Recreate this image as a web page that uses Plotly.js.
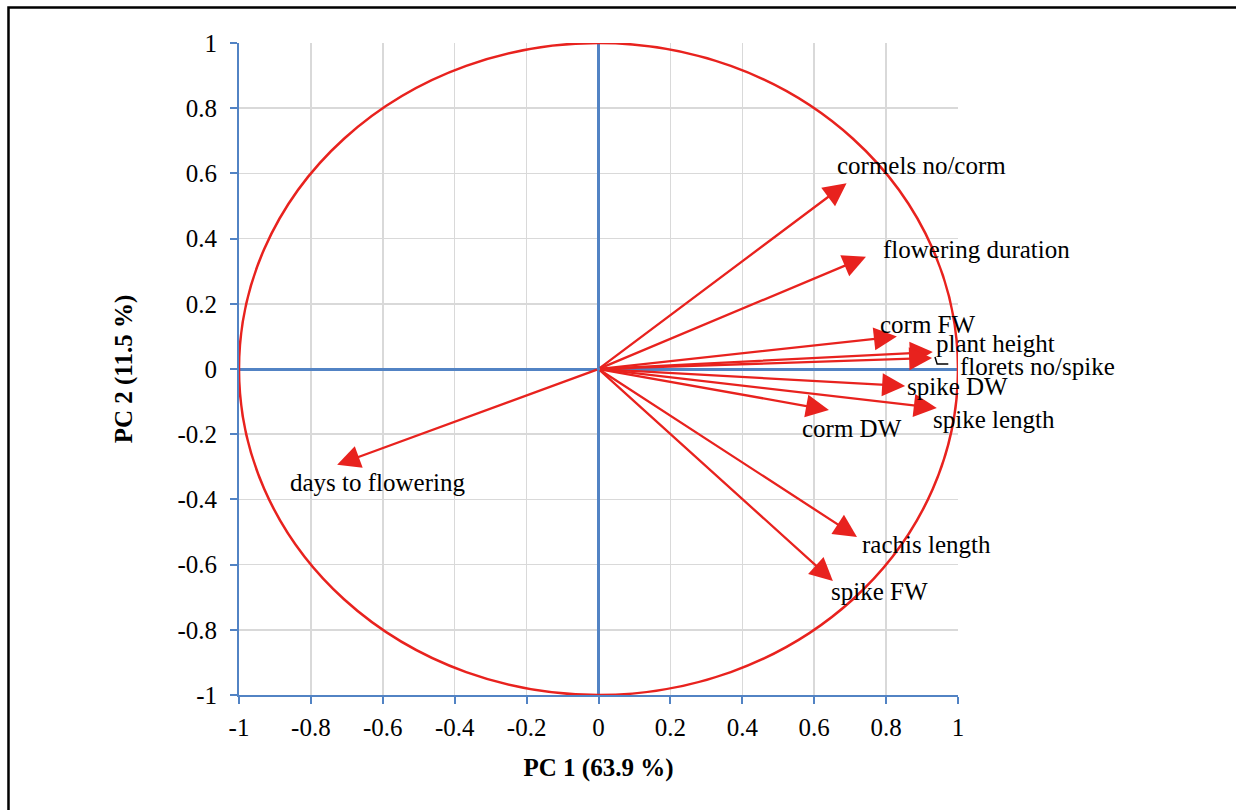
<!DOCTYPE html>
<html>
<head>
<meta charset="utf-8">
<script src="https://cdn.plot.ly/plotly-3.0.1.min.js"></script>
<style>
  html, body { margin: 0; padding: 0; background: #ffffff; }
  #chart { width: 1236px; height: 810px; }
</style>
</head>
<body>
<div id="chart"></div>
<script>
// Variable loadings (arrow tips) on PC1 / PC2
const variables = ["cormels no/corm", "flowering duration", "corm FW", "plant height",
  "florets no/spike", "spike DW", "corm DW", "spike length", "rachis length",
  "spike FW", "days to flowering"];
const pc1 = [0.69, 0.744, 0.83, 0.93, 0.928, 0.853, 0.641, 0.941, 0.719, 0.652, -0.727];
const pc2 = [0.57, 0.344, 0.10, 0.052, 0.034, -0.052, -0.126, -0.12, -0.515, -0.65, -0.294];

// Label anchor points (left edge, vertical middle)
const labelX = [0.658, 0.786, 0.777, 0.933, 1.0, 0.853, 0.561, 0.925, 0.727, 0.641, -0.864];
const labelY = [0.623, 0.368, 0.138, 0.077, 0.008, -0.055, -0.181, -0.156, -0.537, -0.681, -0.347];

// Axis ticks
const tickVals = [-1, -0.8, -0.6, -0.4, -0.2, 0, 0.2, 0.4, 0.6, 0.8, 1];
const tickText = ["-1", "-0.8", "-0.6", "-0.4", "-0.2", "0", "0.2", "0.4", "0.6", "0.8", "1"];

const xTitle = "PC 1 (63.9 %)";
const yTitle = "PC 2 (11.5 %)";

const RED = "#e8221e";
const BLUE = "#5283c4";
const FONT = "Liberation Serif, Times New Roman, serif";
const FS = 25;

const annotations = [];
for (let i = 0; i < variables.length; i++) {
  annotations.push({
    x: pc1[i], y: pc2[i], xref: "x", yref: "y",
    ax: 0, ay: 0, axref: "x", ayref: "y",
    text: "", showarrow: true,
    arrowhead: 2, arrowsize: 2.0, arrowwidth: 2.3, arrowcolor: RED,
    standoff: 0, startstandoff: 0
  });
}
for (let i = 0; i < variables.length; i++) {
  annotations.push({
    x: labelX[i], y: labelY[i], xref: "x", yref: "y",
    text: variables[i], showarrow: false,
    xanchor: "left", yanchor: "middle",
    font: { family: FONT, size: FS, color: "#000000" }
  });
}

const shapes = [
  // correlation circle
  { type: "circle", xref: "x", yref: "y", x0: -1, y0: -1, x1: 1, y1: 1,
    line: { color: RED, width: 2.5 }, layer: "above" },
  // leader line for "florets no/spike"
  { type: "path", xref: "x", yref: "y",
    path: "M 0.936 0.037 L 0.942 0.015 L 0.973 0.015",
    line: { color: "#000000", width: 1.5 } },
  // outer frame
  { type: "rect", xref: "paper", yref: "paper",
    x0: -0.3206, y0: -0.3, x1: 1.6, y1: 1.0545,
    line: { color: "#000000", width: 2.5 }, layer: "below" }
];

const axisCommon = {
  range: [-1, 1],
  tickmode: "array",
  tickvals: tickVals,
  ticktext: tickText,
  showgrid: true,
  gridcolor: "#d9d9d9",
  gridwidth: 1.5,
  zeroline: true,
  zerolinecolor: BLUE,
  zerolinewidth: 3,
  showline: true,
  linecolor: BLUE,
  linewidth: 2,
  ticks: "outside",
  ticklen: 7,
  tickwidth: 2,
  tickcolor: BLUE,
  tickfont: { family: FONT, size: FS, color: "#000000" },
  fixedrange: true
};

const layout = {
  width: 1236,
  height: 810,
  margin: { l: 239, r: 278, t: 43, b: 115 },
  paper_bgcolor: "#ffffff",
  plot_bgcolor: "#ffffff",
  showlegend: false,
  xaxis: Object.assign({}, axisCommon, {
    ticklabelstandoff: 2,
    title: { text: "<b>" + xTitle + "</b>", font: { family: FONT, size: FS, color: "#000000" }, standoff: 18 }
  }),
  yaxis: Object.assign({}, axisCommon, {
    ticklabelstandoff: 8,
    title: { text: "<b>" + yTitle + "</b>", font: { family: FONT, size: FS, color: "#000000" }, standoff: 38 }
  }),
  annotations: annotations,
  shapes: shapes
};

const traces = [{
  x: pc1, y: pc2, type: "scatter", mode: "markers",
  marker: { size: 1, color: "rgba(0,0,0,0)" }, hoverinfo: "skip"
}];

Plotly.newPlot("chart", traces, layout, { displayModeBar: false, staticPlot: true });
</script>
</body>
</html>
